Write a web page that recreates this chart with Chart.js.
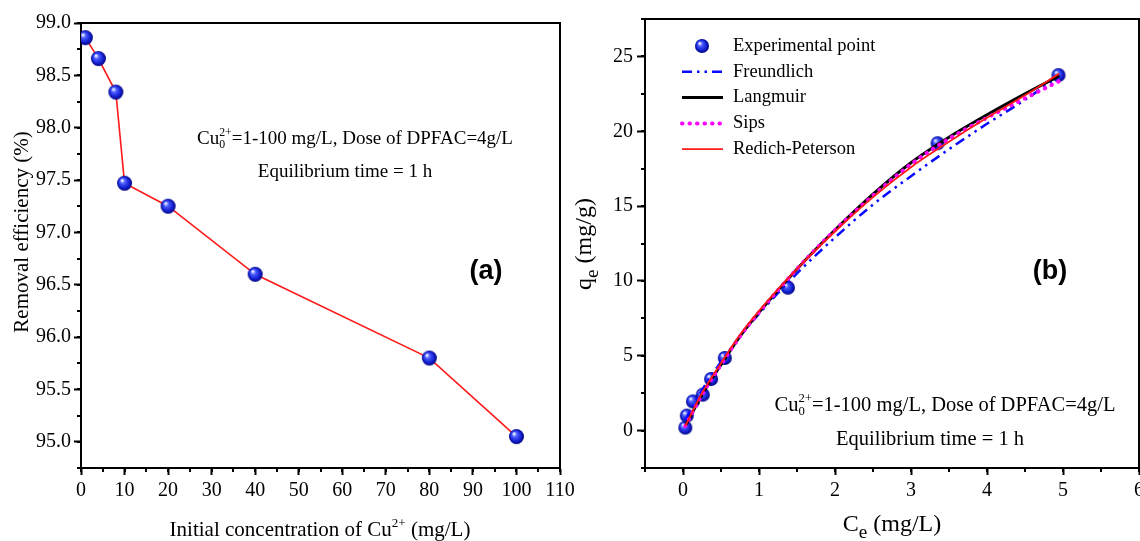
<!DOCTYPE html>
<html>
<head>
<meta charset="utf-8">
<script src="https://cdn.jsdelivr.net/npm/chart.js@4.4.1/dist/chart.umd.min.js"></script>
<style>
html, body { margin: 0; padding: 0; background: #fff; }
#wrap { position: relative; width: 1140px; height: 541px; overflow: hidden; }
.panel { position: absolute; top: 0; height: 541px; }
#pa { left: 0; width: 600px; }
#pb { left: 570px; width: 570px; }
</style>
</head>
<body>
<div id="wrap">
  <div class="panel" id="pa"><canvas id="chartA"></canvas></div>
  <div class="panel" id="pb"><canvas id="chartB"></canvas></div>
</div>
<script>
// panel (a): removal efficiency vs initial concentration
const c0 = [1, 4, 8, 10, 20, 40, 80, 100];
const removal = [98.86, 98.66, 98.34, 97.47, 97.25, 96.60, 95.80, 95.05];
const aXTicks = [0, 10, 20, 30, 40, 50, 60, 70, 80, 90, 100, 110];
const aYTicks = [95.0, 95.5, 96.0, 96.5, 97.0, 97.5, 98.0, 98.5, 99.0];

// panel (b): isotherm, experimental points + fitted models
const ceExp = [0.03, 0.05, 0.13, 0.26, 0.37, 0.55, 1.38, 3.35, 4.94];
const qeExp = [0.2, 1.0, 1.95, 2.4, 3.45, 4.85, 9.55, 19.2, 23.75];
const ceFit = [0.03, 0.25, 0.5, 0.75, 1, 1.5, 2, 2.5, 3, 3.5, 4, 4.5, 4.95];
const freundlich = [0.7, 2.7, 4.6, 6.3, 7.8, 10.5, 12.9, 15.1, 17.0, 18.8, 20.5, 22.1, 23.7];
const langmuir = [0.3, 2.4, 4.4, 6.3, 7.9, 10.8, 13.4, 15.8, 17.9, 19.6, 21.1, 22.5, 23.7];
const sips = [0.3, 2.4, 4.4, 6.3, 7.9, 10.8, 13.4, 15.7, 17.8, 19.5, 20.9, 22.2, 23.35];
const redPet = [0.3, 2.5, 4.5, 6.4, 8.0, 10.8, 13.3, 15.6, 17.6, 19.3, 20.9, 22.4, 23.85];
const bXTicks = [0, 1, 2, 3, 4, 5, 6];
const bYTicks = [0, 5, 10, 15, 20, 25];

const SERIF = '"Liberation Serif", "Times New Roman", serif';
const pts = (xs, ys) => xs.map((x, i) => ({x: x, y: ys[i]}));

function makeSphere(r) {
  const c = document.createElement('canvas');
  c.width = c.height = Math.ceil(r * 2 + 2);
  const g = c.getContext('2d');
  const m = c.width / 2;
  const grad = g.createRadialGradient(m - r * 0.35, m - r * 0.4, r * 0.08, m, m, r);
  grad.addColorStop(0, '#eef3ff');
  grad.addColorStop(0.28, '#4d5cff');
  grad.addColorStop(0.7, '#1422d2');
  grad.addColorStop(1, '#000080');
  g.fillStyle = grad;
  g.beginPath();
  g.arc(m, m, r, 0, Math.PI * 2);
  g.fill();
  return c;
}
const sphereA = makeSphere(7.5);
const sphereB = makeSphere(7);

// rich text: {t} normal, {sup, sub} small raised / lowered
function partW(ctx, p, size) {
  if (p.t !== undefined) { ctx.font = size + 'px ' + SERIF; return ctx.measureText(p.t).width; }
  ctx.font = size * (p.s || 0.62) + 'px ' + SERIF;
  return Math.max(ctx.measureText(p.sup || '').width, ctx.measureText(p.sub || '').width);
}
function drawRich(ctx, parts, cx, cy, size, angle) {
  ctx.save();
  ctx.translate(cx, cy);
  if (angle) ctx.rotate(angle);
  ctx.textAlign = 'left';
  ctx.textBaseline = 'alphabetic';
  ctx.fillStyle = '#000';
  let x = -parts.reduce((w, p) => w + partW(ctx, p, size), 0) / 2;
  const base = size * 0.33;
  parts.forEach(p => {
    const w = partW(ctx, p, size);
    if (p.t !== undefined) ctx.fillText(p.t, x, base);
    else {
      if (p.sup) ctx.fillText(p.sup, x, base - size * 0.42);
      if (p.sub) ctx.fillText(p.sub, x, base + size * (p.s ? 0.28 : 0.22));
    }
    x += w;
  });
  ctx.restore();
}

function minorTicks(ctx, scale, step, len) {
  ctx.save();
  ctx.strokeStyle = '#000';
  ctx.lineWidth = 2;
  ctx.beginPath();
  for (let v = scale.min; v <= scale.max + 1e-9; v += step) {
    const p = Math.round(scale.getPixelForValue(v));
    if (scale.isHorizontal()) { ctx.moveTo(p, scale.top); ctx.lineTo(p, scale.top + len); }
    else { ctx.moveTo(scale.right, p); ctx.lineTo(scale.right - len, p); }
  }
  ctx.stroke();
  ctx.restore();
}
function frame(ctx, a) {
  ctx.save();
  ctx.strokeStyle = '#000';
  ctx.lineWidth = 2;
  ctx.beginPath();
  ctx.moveTo(a.left, a.top);
  ctx.lineTo(a.right, a.top);
  ctx.lineTo(a.right, a.bottom);
  ctx.stroke();
  ctx.restore();
}
function panelLetter(ctx, txt, x, y) {
  ctx.save();
  ctx.font = 'bold 27px "Liberation Sans", Arial, sans-serif';
  ctx.textAlign = 'center';
  ctx.textBaseline = 'middle';
  ctx.fillStyle = '#000';
  ctx.fillText(txt, x, y);
  ctx.restore();
}

const condLine = [{t: 'Cu'}, {sup: '2+', sub: '0'}, {t: '=1-100 mg/L, Dose of DPFAC=4g/L'}];
const eqLine = [{t: 'Equilibrium time = 1 h'}];

function axis(ticksArr, min, max, opts) {
  return Object.assign({
    type: 'linear', min: min, max: max,
    afterBuildTicks: s => { s.ticks = ticksArr.map(v => ({value: v})); },
    grid: {display: true, drawOnChartArea: false, tickLength: 7, tickColor: '#000', tickWidth: 2},
    border: {display: true, color: '#000', width: 2},
    ticks: {color: '#000', font: {family: SERIF, size: 20}, padding: 4, autoSkip: false, maxRotation: 0}
  }, opts);
}

Chart.defaults.font.family = SERIF;

new Chart(document.getElementById('chartA'), {
  type: 'scatter',
  data: {
    datasets: [{
      data: pts(c0, removal),
      showLine: true,
      borderColor: '#ff1a1a',
      borderWidth: 1.6,
      pointStyle: sphereA,
      pointRadius: 7.5
    }]
  },
  options: {
    responsive: true,
    maintainAspectRatio: false,
    animation: false,
    layout: {autoPadding: false, padding: {top: 23, right: 40, left: 0, bottom: 0}},
    plugins: {legend: {display: false}, tooltip: {enabled: false}},
    scales: {
      x: axis(aXTicks, 0, 110, {
        afterFit: s => { s.height = 73; s.paddingLeft = s.paddingRight = 0; }
      }),
      y: axis(aYTicks, 94.75, 99.0, {
        afterFit: s => { s.width = 81; s.paddingTop = s.paddingBottom = 0; },
        ticks: {color: '#000', font: {family: SERIF, size: 20}, padding: 3, autoSkip: false,
          callback: v => Number(v).toFixed(1)}
      })
    }
  },
  plugins: [{
    id: 'extrasA',
    afterDraw(chart) {
      const ctx = chart.ctx, s = chart.scales;
      frame(ctx, chart.chartArea);
      minorTicks(ctx, s.x, 5, 4);
      minorTicks(ctx, s.y, 0.25, 4);
      drawRich(ctx, [{t: 'Initial concentration of Cu'}, {sup: '2+'}, {t: ' (mg/L)'}], 320, 529, 21);
      drawRich(ctx, [{t: 'Removal efficiency (%)'}], 21, 232, 21, -Math.PI / 2);
      drawRich(ctx, condLine, 355, 138, 19);
      drawRich(ctx, eqLine, 345, 171, 19);
      panelLetter(ctx, '(a)', 486, 272);
    }
  }]
});

const chartB = new Chart(document.getElementById('chartB'), {
  type: 'scatter',
  data: {
    datasets: [
      {label: 'Experimental point', data: pts(ceExp, qeExp), showLine: false,
        pointStyle: sphereB, pointRadius: 7, order: 5},
      {label: 'Freundlich', data: pts(ceFit, freundlich), showLine: true, pointRadius: 0,
        borderColor: '#0a0aff', borderWidth: 2.5, borderDash: [10, 5, 2.5, 5, 2.5, 5],
        cubicInterpolationMode: 'monotone', order: 4},
      {label: 'Langmuir', data: pts(ceFit, langmuir), showLine: true, pointRadius: 0,
        borderColor: '#000', borderWidth: 3, cubicInterpolationMode: 'monotone', order: 3},
      {label: 'Sips', data: pts(ceFit, sips), showLine: true, pointRadius: 0,
        borderColor: '#ff00ff', borderWidth: 4, borderDash: [0.5, 7], borderCapStyle: 'round',
        cubicInterpolationMode: 'monotone', order: 2},
      {label: 'Redich-Peterson', data: pts(ceFit, redPet), showLine: true, pointRadius: 0,
        borderColor: '#ff1a1a', borderWidth: 1.8, cubicInterpolationMode: 'monotone', order: 1}
    ]
  },
  options: {
    responsive: true,
    maintainAspectRatio: false,
    animation: false,
    layout: {autoPadding: false, padding: {top: 19, right: 1, left: 0, bottom: 0}},
    plugins: {legend: {display: false}, tooltip: {enabled: false}},
    scales: {
      x: axis(bXTicks, -0.5, 6, {
        afterFit: s => { s.height = 73; s.paddingLeft = s.paddingRight = 0; }
      }),
      y: axis(bYTicks, -2.5, 27.5, {
        afterFit: s => { s.width = 75; s.paddingTop = s.paddingBottom = 0; },
        grid: {display: true, drawOnChartArea: false, tickLength: 8, tickColor: '#000', tickWidth: 2}
      })
    }
  },
  plugins: [{
    id: 'extrasB',
    afterDraw(chart) {
      const ctx = chart.ctx, s = chart.scales;
      frame(ctx, chart.chartArea);
      minorTicks(ctx, s.x, 0.5, 4);
      minorTicks(ctx, s.y, 2.5, 4);
      drawRich(ctx, [{t: 'C'}, {sub: 'e', s: 0.8}, {t: ' (mg/L)'}], 322, 523, 24);
      drawRich(ctx, [{t: 'q'}, {sub: 'e', s: 0.8}, {t: ' (mg/g)'}], 13, 244, 24, -Math.PI / 2);
      drawRich(ctx, condLine, 375, 404, 20.5);
      drawRich(ctx, eqLine, 360, 438, 20.5);
      panelLetter(ctx, '(b)', 480, 272);

      // legend
      const ds = chart.data.datasets;
      ctx.save();
      ctx.font = '18.5px ' + SERIF;
      ctx.textBaseline = 'middle';
      ctx.fillStyle = '#000';
      ds.forEach((d, i) => {
        const y = 46 + i * 25.8;
        if (i === 0) {
          ctx.drawImage(sphereB, 132 - sphereB.width / 2, y - sphereB.height / 2);
        } else {
          ctx.save();
          ctx.strokeStyle = d.borderColor;
          ctx.lineWidth = d.borderWidth;
          ctx.lineCap = d.borderCapStyle || 'butt';
          ctx.setLineDash(d.borderDash || []);
          ctx.beginPath();
          ctx.moveTo(112, y);
          ctx.lineTo(153, y);
          ctx.stroke();
          ctx.restore();
        }
        ctx.fillText(d.label, 163, y);
      });
      ctx.restore();
    }
  }]
});
</script>
</body>
</html>
